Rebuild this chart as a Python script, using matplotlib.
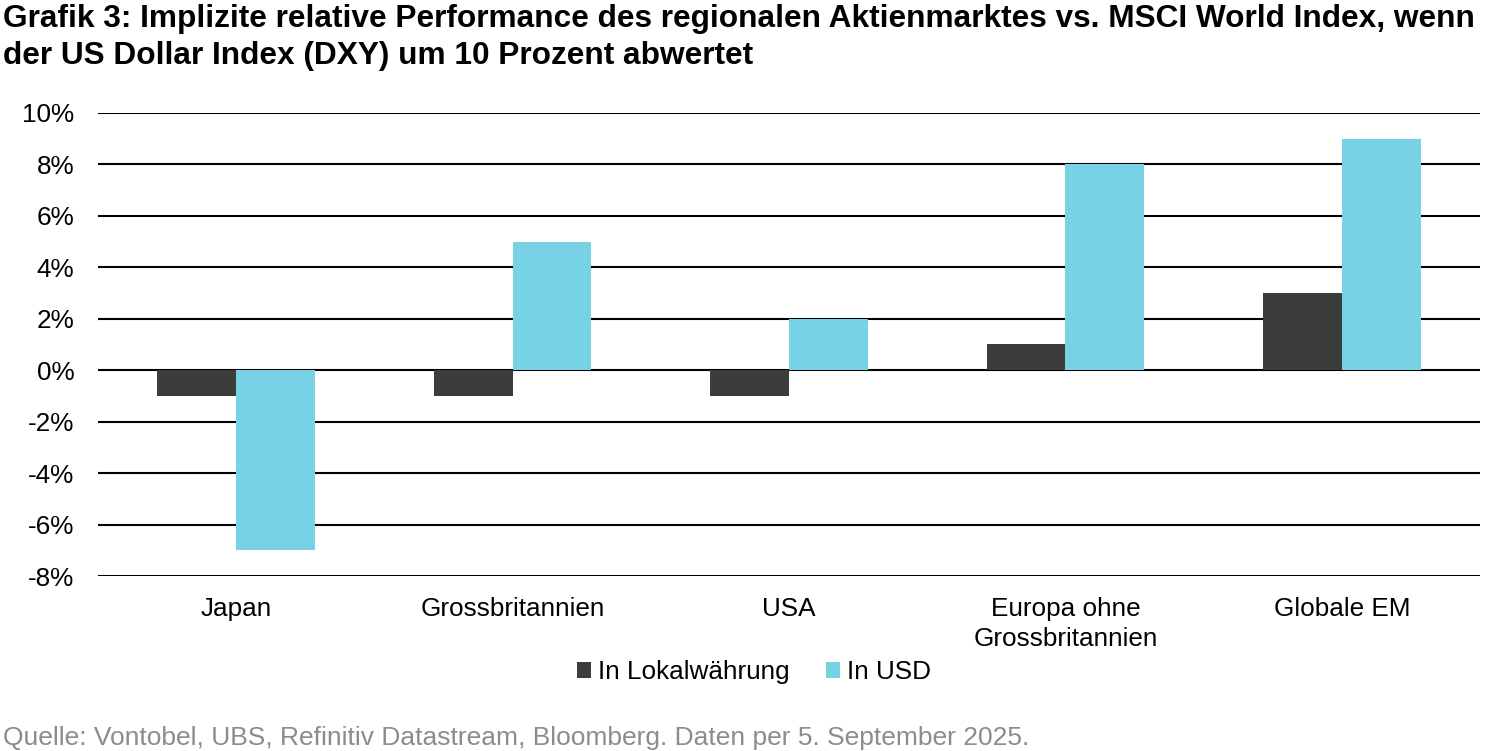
import matplotlib.pyplot as plt
import numpy as np

plt.rcParams['font.family'] = ['Liberation Sans', 'DejaVu Sans']

# Daten
regionen = ['Japan', 'Grossbritannien', 'USA', 'Europa ohne\nGrossbritannien', 'Globale EM']
lokal = [-1, -1, -1, 1, 3]
usd = [-7, 5, 2, 8, 9]
serien = ['In Lokalwährung', 'In USD']
farben = ['#3a3d3a', '#78d2e5']

fig = plt.figure(figsize=(15, 7.51), dpi=100)
ax = fig.add_axes([98 / 1500, 1 - 576 / 751, (1480 - 98) / 1500, (576 - 113) / 751])

x = np.arange(len(regionen))
b = 0.285
ax.bar(x - b / 2, lokal, width=b, color=farben[0], label=serien[0], zorder=3)
ax.bar(x + b / 2, usd, width=b, color=farben[1], label=serien[1], zorder=3)

ax.set_ylim(-8, 10)
ax.set_xlim(-0.5, len(regionen) - 0.5)
ax.set_yticks(range(-8, 11, 2))
ax.set_yticklabels([f'{v}%' for v in range(-8, 11, 2)])
ax.yaxis.grid(True, color='black', linewidth=1.5, zorder=1)
ax.set_xticks(x)
ax.set_xticklabels(regionen, fontsize=18.8, linespacing=1.3)
ax.tick_params(axis='y', labelsize=18.8, length=0, pad=17)
ax.tick_params(axis='x', length=0, pad=15)
for s in ax.spines.values():
    s.set_visible(False)

fig.text(0.002, 1 - 4 / 751, 'Grafik 3: Implizite relative Performance des regionalen Aktienmarktes vs. MSCI World Index, wenn\n'
         'der US Dollar Index (DXY) um 10 Prozent abwertet',
         fontsize=22.8, fontweight='bold', va='top', ha='left', linespacing=1.3)

fig.legend(loc='center', bbox_to_anchor=(754 / 1500, 1 - 672 / 751), ncol=2, frameon=False,
           fontsize=18.8, handlelength=0.55, handleheight=0.55, handletextpad=0.25, columnspacing=1.4)

fig.text(0.002, 1 - 738 / 751, 'Quelle: Vontobel, UBS, Refinitiv Datastream, Bloomberg. Daten per 5. September 2025.',
         fontsize=19, color='#8c8c8c', va='center', ha='left')

fig.savefig('out.png', dpi=100)
